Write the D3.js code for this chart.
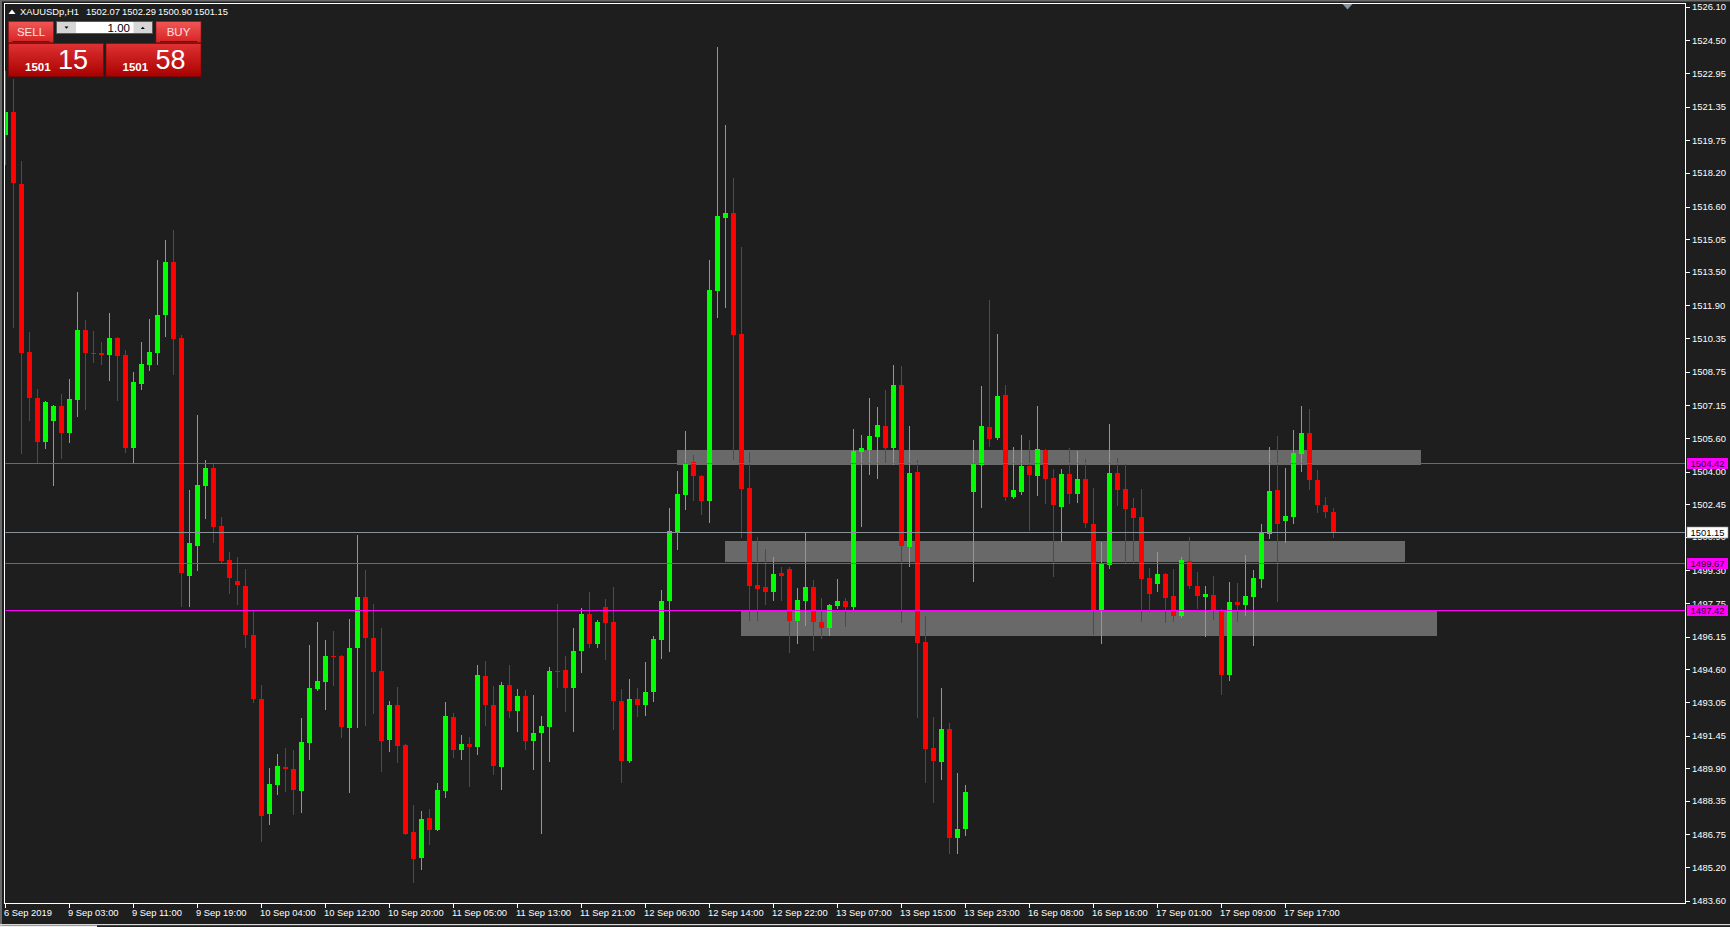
<!DOCTYPE html>
<html><head><meta charset="utf-8">
<script src="https://cdn.jsdelivr.net/npm/d3@7"></script>
<style>
html,body{margin:0;padding:0;background:#1e1e1e;overflow:hidden}
svg{display:block}
text{font-family:"Liberation Sans",Arial,sans-serif}
</style>
</head><body>
<svg id="chart" width="1730" height="927"></svg>
<script>
// ---------- data (XAUUSDp, H1) ----------
const symbolName = "XAUUSDp,H1";
const headerValues = ["1502.07", "1502.29", "1500.90", "1501.15"];
const sellPrice = ["1501", "15"];
const buyPrice = ["1501", "58"];
const lotSize = "1.00";

const open = [1520.00,1521.11,1517.67,1509.68,1507.50,1505.41,1506.42,1507.13,1505.84,1507.40,
1510.74,1509.65,1509.64,1509.56,1510.37,1509.56,1505.14,1508.18,1509.09,1509.65,
1511.42,1513.98,1510.37,1499.05,1500.48,1503.33,1504.17,1501.41,1499.80,1498.82,
1498.56,1496.23,1493.19,1487.73,1489.10,1489.96,1489.86,1488.83,1491.12,1493.67,
1494.01,1495.24,1495.24,1491.83,1495.59,1498.04,1496.07,1494.51,1491.25,1492.90,
1491.01,1486.85,1485.65,1487.53,1486.98,1488.82,1492.33,1490.78,1491.04,1490.93,
1494.28,1492.90,1489.97,1493.86,1492.63,1493.33,1491.21,1491.55,1491.86,1494.51,
1494.56,1493.69,1495.45,1497.23,1495.79,1497.55,1496.85,1493.10,1490.25,1493.18,
1492.88,1493.54,1496.00,1497.83,1501.10,1502.88,1504.45,1503.79,1502.62,1512.60,
1516.07,1516.29,1510.54,1503.22,1498.61,1498.51,1498.29,1499.18,1499.37,1496.91,
1497.87,1498.51,1496.85,1496.58,1497.61,1497.85,1497.58,1504.95,1505.04,1505.65,
1506.17,1505.12,1508.12,1500.42,1503.98,1495.90,1490.86,1490.21,1491.76,1486.56,
1487.00,1503.04,1504.31,1506.12,1505.60,1507.64,1502.79,1503.04,1504.27,1503.80,
1505.03,1503.70,1502.33,1503.89,1502.95,1503.65,1501.51,1497.44,1499.57,1503.93,
1503.17,1502.27,1501.84,1498.96,1498.67,1499.15,1498.10,1497.15,1499.76,1498.58,
1498.05,1498.15,1497.44,1494.34,1497.81,1497.67,1498.05,1498.91,1501.05,1503.14,
1501.67,1501.86,1504.85,1505.84,1503.62,1502.41,1502.07];
const high = [1523.05,1522.66,1518.77,1510.64,1507.92,1507.35,1507.17,1507.69,1508.40,1512.54,
1511.21,1510.69,1510.16,1511.54,1510.40,1509.79,1508.74,1510.16,1511.26,1514.06,
1515.01,1515.49,1510.49,1503.13,1506.69,1504.55,1504.36,1501.86,1500.19,1499.96,
1499.37,1497.39,1493.84,1489.91,1490.58,1490.86,1490.77,1492.28,1495.76,1496.85,
1496.00,1496.43,1495.29,1497.00,1500.98,1499.31,1497.71,1496.56,1493.10,1493.75,
1491.05,1488.15,1487.85,1487.94,1489.19,1493.05,1492.50,1491.48,1491.37,1494.79,
1494.98,1493.79,1494.01,1494.79,1493.67,1493.60,1493.39,1492.39,1494.73,1497.70,
1495.24,1496.55,1497.51,1498.28,1496.96,1497.93,1498.51,1493.67,1494.14,1493.71,
1494.94,1496.17,1498.36,1502.26,1504.03,1505.94,1504.79,1503.82,1514.06,1524.19,
1520.46,1517.96,1514.68,1504.93,1500.89,1500.32,1499.94,1499.47,1499.47,1498.47,
1501.08,1498.85,1497.99,1497.71,1498.89,1497.99,1506.03,1505.74,1507.50,1507.07,
1507.88,1509.07,1509.02,1506.17,1504.55,1497.15,1492.35,1493.71,1492.03,1489.66,
1489.09,1505.50,1508.07,1512.16,1510.54,1508.12,1505.17,1505.74,1505.50,1507.12,
1505.07,1504.12,1504.12,1505.12,1504.98,1504.60,1503.22,1500.67,1506.26,1504.65,
1504.41,1502.75,1503.17,1499.43,1500.19,1499.19,1499.38,1499.96,1500.91,1499.24,
1498.58,1499.05,1497.48,1498.77,1498.72,1500.05,1499.34,1501.52,1505.18,1505.71,
1504.17,1505.98,1507.12,1506.98,1504.08,1502.79,1502.29];
const low = [1518.62,1510.89,1504.90,1506.45,1504.47,1505.14,1503.36,1504.66,1505.41,1506.64,
1506.97,1509.22,1509.11,1508.37,1507.42,1504.95,1504.47,1507.92,1508.85,1509.11,
1510.46,1508.66,1497.63,1497.63,1499.32,1501.81,1500.67,1499.70,1498.24,1497.72,
1495.68,1493.06,1486.45,1487.26,1488.69,1488.83,1487.73,1487.83,1490.35,1493.62,
1492.73,1493.87,1491.40,1488.78,1491.87,1491.97,1492.50,1489.78,1490.74,1490.17,
1486.75,1484.48,1485.09,1486.28,1486.94,1488.55,1490.44,1490.34,1489.06,1490.59,
1491.93,1489.64,1488.93,1492.35,1491.69,1490.82,1489.87,1486.83,1490.25,1493.77,
1492.60,1491.69,1494.49,1495.68,1495.68,1495.11,1491.78,1489.25,1490.21,1492.39,
1492.44,1493.11,1495.15,1495.49,1500.33,1502.24,1502.67,1502.00,1501.62,1511.37,
1511.84,1504.61,1500.91,1496.96,1496.96,1497.72,1497.91,1497.91,1495.44,1495.85,
1496.72,1495.53,1496.10,1496.24,1497.53,1496.67,1497.44,1501.43,1503.90,1503.71,
1504.42,1504.36,1496.86,1499.53,1492.35,1489.26,1488.31,1489.40,1485.87,1485.85,
1486.70,1498.81,1502.32,1505.23,1505.55,1502.66,1502.76,1502.95,1501.24,1502.90,
1502.52,1499.05,1500.70,1502.52,1502.57,1501.38,1496.30,1495.87,1499.43,1502.43,
1499.67,1499.67,1496.91,1497.39,1498.34,1496.86,1496.91,1497.10,1498.48,1497.53,
1496.20,1497.01,1493.44,1494.11,1496.91,1497.20,1495.77,1498.53,1500.86,1497.86,
1500.67,1501.57,1504.04,1503.19,1502.08,1501.84,1500.90];
const close = [1521.11,1517.73,1509.65,1507.51,1505.41,1507.31,1507.13,1505.84,1507.45,1510.74,
1509.65,1509.60,1509.54,1510.37,1509.51,1505.14,1508.26,1509.12,1509.69,1511.45,
1513.98,1510.32,1499.19,1500.62,1503.36,1504.17,1501.38,1499.77,1498.96,1498.60,
1496.25,1493.20,1487.64,1489.15,1490.00,1489.86,1488.88,1491.15,1493.71,1494.05,
1495.24,1495.20,1491.87,1495.62,1498.04,1496.07,1494.49,1491.21,1492.90,1490.97,
1486.79,1485.56,1487.47,1486.96,1488.85,1492.37,1490.78,1491.04,1490.93,1494.33,
1492.92,1490.01,1493.86,1492.63,1493.33,1491.21,1491.57,1491.91,1494.51,1494.47,
1493.69,1495.47,1497.23,1495.79,1496.85,1496.81,1493.07,1490.25,1493.18,1492.88,
1493.52,1496.04,1497.85,1501.16,1502.92,1504.39,1503.77,1502.62,1512.63,1516.15,
1516.29,1510.51,1503.19,1498.58,1498.44,1498.29,1499.13,1499.05,1496.91,1497.90,
1498.51,1496.86,1496.58,1497.66,1497.85,1497.58,1504.98,1505.12,1505.69,1506.22,
1505.12,1508.12,1500.48,1503.93,1495.87,1490.83,1490.26,1491.76,1486.56,1487.00,
1488.77,1504.36,1506.17,1505.55,1507.59,1502.81,1503.13,1504.27,1503.85,1505.07,
1503.66,1502.43,1503.89,1502.95,1503.65,1501.57,1497.44,1499.62,1503.95,1503.14,
1502.24,1501.81,1498.91,1498.20,1499.13,1498.01,1497.15,1499.81,1498.58,1498.10,
1498.20,1497.39,1494.34,1497.81,1497.67,1498.10,1498.96,1501.10,1503.09,1501.52,
1501.90,1504.90,1505.84,1503.62,1502.41,1502.07,1501.15];

// time axis: one label every 8 bars
const timeLabelBars = [0,8,16,24,32,40,48,56,64,72,80,88,96,104,112,120,128,136,144,152,160];
const timeLabels = ["6 Sep 2019","9 Sep 03:00","9 Sep 11:00","9 Sep 19:00","10 Sep 04:00","10 Sep 12:00",
"10 Sep 20:00","11 Sep 05:00","11 Sep 13:00","11 Sep 21:00","12 Sep 06:00","12 Sep 14:00","12 Sep 22:00",
"13 Sep 07:00","13 Sep 15:00","13 Sep 23:00","16 Sep 08:00","16 Sep 16:00","17 Sep 01:00","17 Sep 09:00","17 Sep 17:00"];

const priceTicks = [1526.10,1524.50,1522.95,1521.35,1519.75,1518.20,1516.60,1515.05,1513.50,1511.90,
1510.35,1508.75,1507.15,1505.60,1504.00,1502.45,1500.90,1499.30,1497.75,1496.15,1494.60,1493.05,
1491.45,1489.90,1488.35,1486.75,1485.20,1483.60];

const levelPrices = [1504.42, 1499.67, 1497.42];
const bidPrice = 1501.15;

// rectangles (bar index from/to, price top/bottom)
const zoneFrom = [84, 90, 92];
const zoneTo = [177, 175, 179];
const zoneTop = [1505.03, 1500.70, 1497.41];
const zoneBottom = [1504.33, 1499.69, 1496.20];

// ---------- drawing ----------
const W = 1730, H = 927;
const plot = {left: 5, right: 1685, top: 4, bottom: 903};
const upColor = "#00ff00", downColor = "#ff0000";
const bg = "#1e1e1e";

const svg = d3.select("#chart");
svg.append("rect").attr("width", W).attr("height", H).attr("fill", bg);

const x = d3.scaleLinear().domain([0, 1]).range([5.3, 13.3]);
const y = d3.scaleLinear().domain([1483.60, 1526.10]).range([900.7, 6.7]);

const defs = svg.append("defs");
defs.append("clipPath").attr("id", "plotClip").append("rect")
  .attr("x", plot.left + 0.5).attr("y", plot.top + 0.5)
  .attr("width", plot.right - plot.left - 0.5).attr("height", plot.bottom - plot.top - 0.5);

const gradSmall = defs.append("linearGradient").attr("id", "gSmall").attr("x1", 0).attr("y1", 0).attr("x2", 0).attr("y2", 1);
gradSmall.append("stop").attr("offset", "0%").attr("stop-color", "#f25656");
gradSmall.append("stop").attr("offset", "100%").attr("stop-color", "#d42424");
const gradBig = defs.append("linearGradient").attr("id", "gBig").attr("x1", 0).attr("y1", 0).attr("x2", 0).attr("y2", 1);
gradBig.append("stop").attr("offset", "0%").attr("stop-color", "#e03232");
gradBig.append("stop").attr("offset", "100%").attr("stop-color", "#a80000");

const plotG = svg.append("g").attr("clip-path", "url(#plotClip)");

// zones
const zoneIdx = d3.range(zoneFrom.length);
plotG.selectAll("rect.zone").data(zoneIdx).join("rect")
  .attr("class", "zone")
  .attr("x", i => Math.round(x(zoneFrom[i])))
  .attr("width", i => Math.round(x(zoneTo[i])) - Math.round(x(zoneFrom[i])))
  .attr("y", i => Math.round(y(zoneTop[i])))
  .attr("height", i => Math.round(y(zoneBottom[i])) - Math.round(y(zoneTop[i])))
  .attr("fill", "#696969");

// candles
const bars = d3.range(open.length);
const cx = i => Math.round(x(i));
const col = i => close[i] >= open[i] ? upColor : downColor;
plotG.selectAll("line.wick").data(bars).join("line")
  .attr("class", "wick")
  .attr("x1", i => cx(i) + 0.5).attr("x2", i => cx(i) + 0.5)
  .attr("y1", i => Math.round(y(high[i])))
  .attr("y2", i => Math.round(y(low[i])) + 1)
  .attr("stroke", col).attr("stroke-width", 1);
plotG.selectAll("rect.body").data(bars).join("rect")
  .attr("class", "body")
  .attr("x", i => cx(i) - 2).attr("width", 5)
  .attr("y", i => Math.round(y(Math.max(open[i], close[i]))))
  .attr("height", i => Math.max(1, Math.round(y(Math.min(open[i], close[i]))) - Math.round(y(Math.max(open[i], close[i])))))
  .attr("fill", col);

// level lines
plotG.selectAll("line.level").data(levelPrices).join("line")
  .attr("class", "level")
  .attr("x1", plot.left).attr("x2", plot.right)
  .attr("y1", d => Math.round(y(d)) + 0.5).attr("y2", d => Math.round(y(d)) + 0.5)
  .attr("stroke", "#ff00ff").attr("stroke-width", 1);
// bid line
plotG.append("line")
  .attr("x1", plot.left).attr("x2", plot.right)
  .attr("y1", Math.round(y(bidPrice)) + 0.5).attr("y2", Math.round(y(bidPrice)) + 0.5)
  .attr("stroke", "#8a939c").attr("stroke-width", 1);

// frame
svg.append("rect").attr("x", 0).attr("y", 0).attr("width", W).attr("height", 1.5).attr("fill", "#6a6a6a");
svg.append("rect").attr("x", 0).attr("y", 0).attr("width", 2).attr("height", 927).attr("fill", "#6a6a6a");
svg.append("rect")
  .attr("x", plot.left - 0.5).attr("y", plot.top - 0.5)
  .attr("width", plot.right - plot.left + 1).attr("height", plot.bottom - plot.top + 1)
  .attr("fill", "none").attr("stroke", "#ffffff").attr("stroke-width", 1);

// chart shift marker
svg.append("path")
  .attr("d", d3.line()([[1342.5, 4], [1352.5, 4], [1347.5, 9.5]]) + "Z")
  .attr("fill", "#8793a0");

// right price axis
const axisG = svg.append("g");
axisG.selectAll("line.pt").data(priceTicks).join("line")
  .attr("x1", plot.right + 1).attr("x2", plot.right + 5)
  .attr("y1", d => Math.round(y(d)) + 0.5).attr("y2", d => Math.round(y(d)) + 0.5)
  .attr("stroke", "#ffffff");
axisG.selectAll("text.pt").data(priceTicks).join("text")
  .attr("x", plot.right + 7).attr("y", d => y(d) + 3.6)
  .attr("fill", "#ffffff").attr("font-size", "9.4px")
  .text(d => d.toFixed(2));

// level labels on price axis
const lab = svg.append("g");
lab.selectAll("rect.lv").data(levelPrices).join("rect")
  .attr("x", plot.right + 2).attr("width", 41)
  .attr("y", d => Math.round(y(d)) - 5).attr("height", 11)
  .attr("fill", "#ff00ff");
lab.selectAll("text.lv").data(levelPrices).join("text")
  .attr("x", plot.right + 22.5).attr("y", d => Math.round(y(d)) + 4)
  .attr("text-anchor", "middle").attr("fill", "#2a002a").attr("font-size", "9.4px")
  .text(d => d.toFixed(2));
lab.append("rect")
  .attr("x", plot.right + 2).attr("width", 41)
  .attr("y", Math.round(y(bidPrice)) - 5).attr("height", 11)
  .attr("fill", "#ffffff").attr("stroke", "#8a939c").attr("stroke-width", 0.6);
lab.append("text")
  .attr("x", plot.right + 22.5).attr("y", Math.round(y(bidPrice)) + 4)
  .attr("text-anchor", "middle").attr("fill", "#000000").attr("font-size", "9.4px")
  .text(bidPrice.toFixed(2));

// time axis
const tAx = svg.append("g");
tAx.selectAll("line.tt").data(timeLabelBars).join("line")
  .attr("x1", i => cx(i) + 0.5).attr("x2", i => cx(i) + 0.5)
  .attr("y1", plot.bottom + 1).attr("y2", plot.bottom + 5)
  .attr("stroke", "#ffffff");
tAx.selectAll("text.tt").data(timeLabelBars).join("text")
  .attr("x", i => cx(i) - 1).attr("y", 916)
  .attr("fill", "#ffffff").attr("font-size", "9.4px")
  .text((d, k) => timeLabels[k]);

// bottom window edge
svg.append("rect").attr("x", 0).attr("y", 924).attr("width", W).attr("height", 1.2).attr("fill", "#d8d8d8");
svg.append("rect").attr("x", 0).attr("y", 925.5).attr("width", 97).attr("height", 1.5).attr("fill", "#f0f0f0");

// header
const hdr = svg.append("g");
hdr.append("path").attr("d", "M8.5,14 L12,9.5 L15.5,14 Z").attr("fill", "#ffffff");
hdr.append("text").attr("x", 20).attr("y", 15).attr("fill", "#ffffff").attr("font-size", "9.4px").text(symbolName);
hdr.selectAll("text.hv").data(headerValues).join("text")
  .attr("x", (d, k) => 86 + k * 36).attr("y", 15)
  .attr("fill", "#ffffff").attr("font-size", "9.4px").text(d => d);

// one-click trading panel
const panel = svg.append("g");
// SELL / BUY buttons
[[8.5, "SELL"], [156, "BUY"]].forEach(([bx, label]) => {
  panel.append("rect").attr("x", bx).attr("y", 21.5).attr("width", 45).attr("height", 21)
    .attr("fill", "url(#gSmall)").attr("stroke", "#9a1010").attr("stroke-width", 0.6);
  panel.append("text").attr("x", bx + 22.5).attr("y", 35.5).attr("text-anchor", "middle")
    .attr("fill", "#ffe2e2").attr("font-size", "11.5px").text(label);
  panel.append("line").attr("x1", bx + 4).attr("x2", bx + 41).attr("y1", 41.5).attr("y2", 41.5)
    .attr("stroke", "#7a0a0a").attr("stroke-width", 1);
});
// lot spinner
panel.append("rect").attr("x", 56.5).attr("y", 21.5).attr("width", 96).attr("height", 12)
  .attr("fill", "#ffffff").attr("stroke", "#5a5a5a");
panel.append("rect").attr("x", 57).attr("y", 22).attr("width", 19).attr("height", 11).attr("fill", "#d6d6d6");
panel.append("rect").attr("x", 133.5).attr("y", 22).attr("width", 18.5).attr("height", 11).attr("fill", "#d6d6d6");
panel.append("path").attr("d", "M64.5,26.5 L68.5,26.5 L66.5,28.8 Z").attr("fill", "#000");
panel.append("path").attr("d", "M140.8,29 L144.8,29 L142.8,26.7 Z").attr("fill", "#000");
panel.append("text").attr("x", 130).attr("y", 31.8).attr("text-anchor", "end")
  .attr("fill", "#000").attr("font-size", "11.5px").text(lotSize);
// big price boxes
[[8.5, sellPrice], [106, buyPrice]].forEach(([bx, pr]) => {
  panel.append("rect").attr("x", bx).attr("y", 43.5).attr("width", 95).attr("height", 33)
    .attr("fill", "url(#gBig)").attr("stroke", "#8a0000").attr("stroke-width", 0.6);
  panel.append("text").attr("x", bx + 16.5).attr("y", 70.5).attr("fill", "#fff")
    .attr("font-size", "11.5px").attr("font-weight", "bold").text(pr[0]);
  panel.append("text").attr("x", bx + 49.5).attr("y", 68.5).attr("fill", "#fff")
    .attr("font-size", "27px").text(pr[1]);
});
</script>
</body></html>
